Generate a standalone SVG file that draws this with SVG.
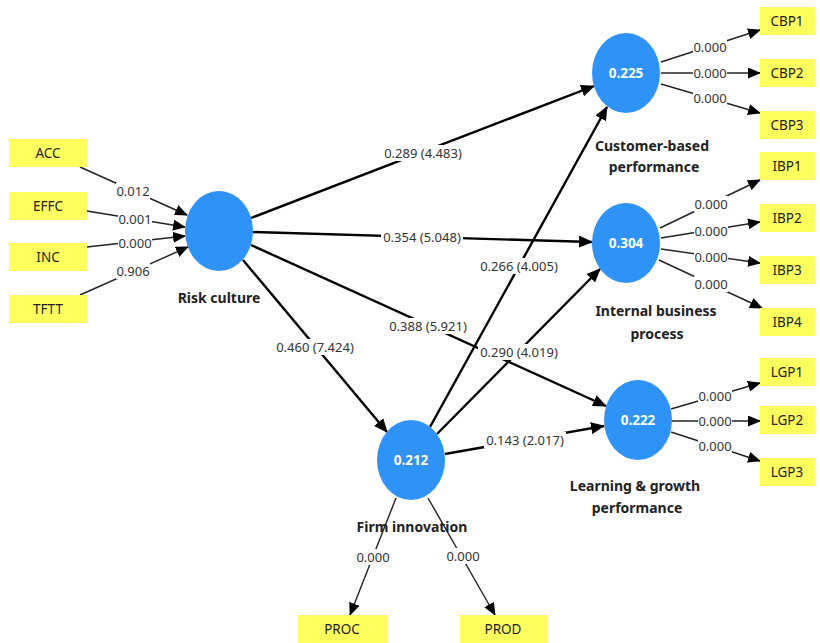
<svg xmlns="http://www.w3.org/2000/svg" width="820" height="643" viewBox="0 0 820 643">
<defs>
<marker id="ah" markerUnits="userSpaceOnUse" markerWidth="14" markerHeight="12" refX="13" refY="6" orient="auto"><path d="M0,0 L14,6 L0,12 Z" fill="#000"/></marker>
<marker id="ahs" markerUnits="userSpaceOnUse" markerWidth="13" markerHeight="11" refX="12" refY="5.5" orient="auto"><path d="M0,0 L13,5.5 L0,11 Z" fill="#000"/></marker>
<style>
.box{fill:#FFFF5E}
.lv{fill:#2F92F5}
.bt{font-family:"Noto Sans",sans-serif;font-size:13.5px;fill:#222;text-anchor:middle;dominant-baseline:central}
.ct{font-family:"Noto Sans",sans-serif;font-size:13.5px;font-weight:bold;fill:#fff;text-anchor:middle;dominant-baseline:central}
.nm{font-family:"Noto Sans",sans-serif;font-size:14px;font-weight:bold;fill:#222;text-anchor:middle;dominant-baseline:central}
.lb{font-family:"Noto Sans",sans-serif;font-size:13px;fill:#333;text-anchor:middle;dominant-baseline:central}
.bg{fill:#fff}
.s{stroke:#000;stroke-width:2.4;fill:none}
.m{stroke:#222;stroke-width:1.4;fill:none}
</style>
</defs>
<rect width="820" height="643" fill="#fff"/>
<g id="connectors">
<line class="m" x1="80" y1="167" x2="187" y2="215" marker-end="url(#ahs)"/>
<line class="m" x1="87" y1="211" x2="185" y2="227" marker-end="url(#ahs)"/>
<line class="m" x1="87" y1="247" x2="185" y2="236" marker-end="url(#ahs)"/>
<line class="m" x1="80" y1="295" x2="188" y2="247" marker-end="url(#ahs)"/>
<line class="m" x1="661" y1="62" x2="760" y2="30" marker-end="url(#ahs)"/>
<line class="m" x1="661" y1="73" x2="760" y2="73" marker-end="url(#ahs)"/>
<line class="m" x1="661" y1="84" x2="760" y2="113" marker-end="url(#ahs)"/>
<line class="m" x1="660" y1="228" x2="760" y2="180" marker-end="url(#ahs)"/>
<line class="m" x1="661" y1="238" x2="760" y2="222" marker-end="url(#ahs)"/>
<line class="m" x1="661" y1="249" x2="760" y2="263" marker-end="url(#ahs)"/>
<line class="m" x1="659" y1="260" x2="762" y2="308" marker-end="url(#ahs)"/>
<line class="m" x1="671" y1="409" x2="760" y2="383" marker-end="url(#ahs)"/>
<line class="m" x1="672" y1="421" x2="760" y2="421" marker-end="url(#ahs)"/>
<line class="m" x1="671" y1="432" x2="760" y2="461" marker-end="url(#ahs)"/>
<line class="m" x1="396" y1="498" x2="350" y2="615" marker-end="url(#ahs)"/>
<line class="m" x1="428" y1="498" x2="495" y2="615" marker-end="url(#ahs)"/>
<line class="s" x1="251" y1="218" x2="594" y2="86" marker-end="url(#ah)"/>
<line class="s" x1="253" y1="232" x2="592" y2="242" marker-end="url(#ah)"/>
<line class="s" x1="251" y1="245" x2="606" y2="406" marker-end="url(#ah)"/>
<line class="s" x1="243" y1="260" x2="387" y2="432" marker-end="url(#ah)"/>
<line class="s" x1="430" y1="427" x2="607" y2="107" marker-end="url(#ah)"/>
<line class="s" x1="437" y1="434" x2="600" y2="269" marker-end="url(#ah)"/>
<line class="s" x1="445" y1="454" x2="604" y2="426" marker-end="url(#ah)"/>
<rect class="bg" x="116" y="183" width="34" height="16"/><text class="lb" x="133" y="191">0.012</text>
<rect class="bg" x="118" y="211" width="34" height="16"/><text class="lb" x="135" y="219">0.001</text>
<rect class="bg" x="118" y="235" width="34" height="16"/><text class="lb" x="135" y="243">0.000</text>
<rect class="bg" x="116" y="263" width="34" height="16"/><text class="lb" x="133" y="271">0.906</text>
<rect class="bg" x="693" y="39" width="34" height="16"/><text class="lb" x="710" y="47">0.000</text>
<rect class="bg" x="693" y="65" width="34" height="16"/><text class="lb" x="710" y="73">0.000</text>
<rect class="bg" x="693" y="90" width="34" height="16"/><text class="lb" x="710" y="98">0.000</text>
<rect class="bg" x="694" y="196" width="34" height="16"/><text class="lb" x="711" y="204">0.000</text>
<rect class="bg" x="694" y="223" width="34" height="16"/><text class="lb" x="711" y="231">0.000</text>
<rect class="bg" x="694" y="249" width="34" height="16"/><text class="lb" x="711" y="257">0.000</text>
<rect class="bg" x="694" y="276" width="34" height="16"/><text class="lb" x="711" y="284">0.000</text>
<rect class="bg" x="698" y="388" width="34" height="16"/><text class="lb" x="715" y="396">0.000</text>
<rect class="bg" x="698" y="413" width="34" height="16"/><text class="lb" x="715" y="421">0.000</text>
<rect class="bg" x="698" y="438" width="34" height="16"/><text class="lb" x="715" y="446">0.000</text>
<rect class="bg" x="356" y="549" width="34" height="16"/><text class="lb" x="373" y="557">0.000</text>
<rect class="bg" x="446" y="548" width="34" height="16"/><text class="lb" x="463" y="556">0.000</text>
<rect class="bg" x="382" y="145" width="82" height="16"/><text class="lb" x="423" y="153">0.289 (4.483)</text>
<rect class="bg" x="381" y="229" width="82" height="16"/><text class="lb" x="422" y="237">0.354 (5.048)</text>
<rect class="bg" x="478" y="258" width="82" height="16"/><text class="lb" x="519" y="266">0.266 (4.005)</text>
<rect class="bg" x="387" y="318" width="82" height="16"/><text class="lb" x="428" y="326">0.388 (5.921)</text>
<rect class="bg" x="274" y="339" width="82" height="16"/><text class="lb" x="315" y="347">0.460 (7.424)</text>
<rect class="bg" x="478" y="344" width="82" height="16"/><text class="lb" x="519" y="352">0.290 (4.019)</text>
<rect class="bg" x="484" y="432" width="82" height="16"/><text class="lb" x="525" y="440">0.143 (2.017)</text>
</g>
<g id="ACC"><rect class="box" x="9" y="139" width="78" height="28"/><text class="bt" x="48" y="153">ACC</text></g>
<g id="EFFC"><rect class="box" x="9" y="192" width="78" height="28"/><text class="bt" x="48" y="206">EFFC</text></g>
<g id="INC"><rect class="box" x="9" y="243" width="78" height="28"/><text class="bt" x="48" y="257">INC</text></g>
<g id="TFTT"><rect class="box" x="9" y="295" width="78" height="28"/><text class="bt" x="48" y="309">TFTT</text></g>
<g id="CBP1"><rect class="box" x="760" y="7" width="55" height="28"/><text class="bt" x="787" y="21">CBP1</text></g>
<g id="CBP2"><rect class="box" x="760" y="59" width="55" height="28"/><text class="bt" x="787" y="73">CBP2</text></g>
<g id="CBP3"><rect class="box" x="760" y="111" width="55" height="28"/><text class="bt" x="787" y="125">CBP3</text></g>
<g id="IBP1"><rect class="box" x="760" y="152" width="55" height="28"/><text class="bt" x="787" y="166">IBP1</text></g>
<g id="IBP2"><rect class="box" x="760" y="204" width="55" height="28"/><text class="bt" x="787" y="218">IBP2</text></g>
<g id="IBP3"><rect class="box" x="760" y="256" width="55" height="28"/><text class="bt" x="787" y="270">IBP3</text></g>
<g id="IBP4"><rect class="box" x="760" y="308" width="55" height="28"/><text class="bt" x="787" y="322">IBP4</text></g>
<g id="LGP1"><rect class="box" x="760" y="358" width="55" height="28"/><text class="bt" x="787" y="372">LGP1</text></g>
<g id="LGP2"><rect class="box" x="760" y="406" width="55" height="28"/><text class="bt" x="787" y="420">LGP2</text></g>
<g id="LGP3"><rect class="box" x="760" y="458" width="55" height="28"/><text class="bt" x="787" y="472">LGP3</text></g>
<g id="PROC"><rect class="box" x="298" y="615" width="89" height="28"/><text class="bt" x="342" y="629">PROC</text></g>
<g id="PROD"><rect class="box" x="460" y="615" width="87" height="28"/><text class="bt" x="503" y="629">PROD</text></g>
<g id="RiskCulture"><ellipse class="lv" cx="219" cy="231" rx="34" ry="40"/><text class="nm" x="219" y="297">Risk culture</text></g>
<g id="CustomerBased"><ellipse class="lv" cx="626" cy="73" rx="34" ry="40"/><text class="ct" x="626" y="73">0.225</text><text class="nm" x="652" y="145">Customer-based</text><text class="nm" x="654" y="166">performance</text></g>
<g id="InternalBusiness"><ellipse class="lv" cx="626" cy="243" rx="34" ry="40"/><text class="ct" x="626" y="243">0.304</text><text class="nm" x="656" y="310">Internal business</text><text class="nm" x="657" y="333">process</text></g>
<g id="LearningGrowth"><ellipse class="lv" cx="638" cy="420" rx="34" ry="40"/><text class="ct" x="638" y="420">0.222</text><text class="nm" x="635" y="485">Learning &amp; growth</text><text class="nm" x="637" y="507">performance</text></g>
<g id="FirmInnovation"><ellipse class="lv" cx="411" cy="460" rx="34" ry="40"/><text class="ct" x="411" y="460">0.212</text><text class="nm" x="412" y="526">Firm innovation</text></g>
</svg>
